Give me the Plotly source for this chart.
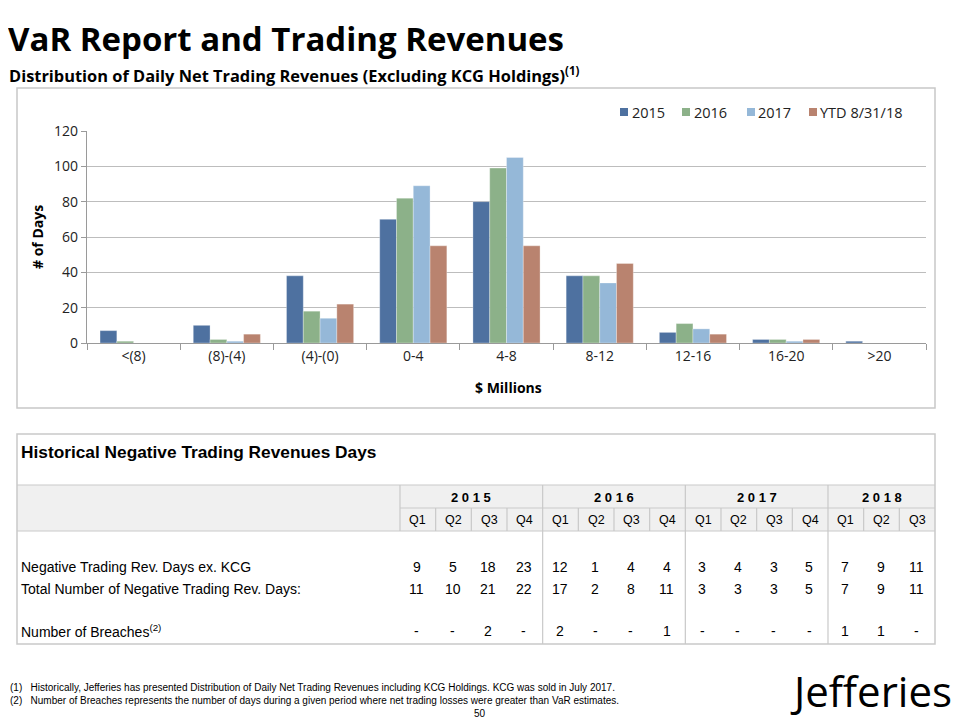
import plotly.graph_objects as go

# ---------------- data ----------------
categories = ["<(8)", "(8)-(4)", "(4)-(0)", "0-4", "4-8", "8-12", "12-16", "16-20", ">20"]
series_names = ["2015", "2016", "2017", "YTD 8/31/18"]
vals_2015 = [7, 10, 38, 70, 80, 38, 6, 2, 1]
vals_2016 = [1, 2, 18, 82, 99, 38, 11, 2, 0]
vals_2017 = [0, 1, 14, 89, 105, 34, 8, 1, 0]
vals_ytd18 = [0, 5, 22, 55, 55, 45, 5, 2, 0]
series_colors = ["#4E71A0", "#8CB189", "#95B8D8", "#B9836F"]

table_years = ["2015", "2016", "2017", "2018"]
quarters_per_year = [4, 4, 4, 3]
quarter_labels = ["Q1", "Q2", "Q3", "Q4", "Q1", "Q2", "Q3", "Q4",
                  "Q1", "Q2", "Q3", "Q4", "Q1", "Q2", "Q3"]
neg_days_ex_kcg = [9, 5, 18, 23, 12, 1, 4, 4, 3, 4, 3, 5, 7, 9, 11]
total_neg_days = [11, 10, 21, 22, 17, 2, 8, 11, 3, 3, 3, 5, 7, 9, 11]
breaches = ["-", "-", "2", "-", "2", "-", "-", "1", "-", "-", "-", "-", "1", "1", "-"]
row_labels = ["Negative Trading Rev. Days ex. KCG",
              "Total Number of Negative Trading Rev. Days:",
              "Number of Breaches<sup>(2)</sup>"]

# page offset (body margin) compensation: figure occupies 8..960 x 8..720
OFF = 8
W, H = 960 - OFF, 720 - OFF
def px(x): return (x - OFF) / W
def py(y): return 1 - (y - OFF) / H

def ann(text, x, y, size, family="Open Sans", xanchor="center", yanchor="middle", color="#000", **kw):
    d = dict(text=text, x=px(x), y=py(y), xref="paper", yref="paper", xanchor=xanchor,
             yanchor=yanchor, showarrow=False, font=dict(family=family, size=size, color=color))
    d.update(kw)
    return d

fig = go.Figure()
for name, vals, col in zip(series_names, [vals_2015, vals_2016, vals_2017, vals_ytd18], series_colors):
    fig.add_trace(go.Bar(x=categories, y=vals, name=name,
                         marker=dict(color=col, line=dict(color="rgba(255,255,255,0.6)", width=0.5))))

shapes = []
annotations = []
line_col = "#C9C9C9"

# chart frame
shapes.append(dict(type="rect", xref="paper", yref="paper", x0=px(17), x1=px(935),
                   y0=py(408), y1=py(88), line=dict(color="#C8C8C8", width=1.5), layer="below"))

# titles
annotations.append(ann("<b>VaR Report and Trading Revenues</b>", 6, 39, 33, xanchor="left"))
annotations.append(ann("<b>Distribution of Daily Net Trading Revenues (Excluding KCG Holdings)<sup>(1)</sup></b>",
                       7, 75, 16.4, xanchor="left"))

# axis titles
annotations.append(ann("<b># of Days</b>", 38, 237, 14, textangle=-90))
annotations.append(ann("<b>$ Millions</b>", 508, 387, 14))

# legend (manual, compact squares like the original)
legend_sq_x = [620, 682, 747, 809]
legend_txt_x = [630, 692, 756, 818]
for name, col, sx, tx in zip(series_names, series_colors, legend_sq_x, legend_txt_x):
    shapes.append(dict(type="rect", xref="paper", yref="paper", x0=px(sx), x1=px(sx + 8),
                       y0=py(116), y1=py(108), fillcolor=col, line=dict(width=0)))
    annotations.append(ann(name, tx, 112, 14.5, xanchor="left", color="#222"))

# ---------------- table ----------------
tx0, tx1 = 17, 935
ty0, ty1 = 434, 644
lab_x = 400
col_w = (tx1 - lab_x) / len(quarter_labels)
y_title_bottom, y_year_bottom, y_q_bottom = 485, 508, 531
TF = "Liberation Sans"

shapes.append(dict(type="rect", xref="paper", yref="paper", x0=px(tx0), x1=px(tx1),
                   y0=py(y_q_bottom), y1=py(y_title_bottom), fillcolor="#F0F0F0",
                   line=dict(width=0), layer="below"))
shapes.append(dict(type="rect", xref="paper", yref="paper", x0=px(tx0), x1=px(tx1),
                   y0=py(ty1), y1=py(ty0), line=dict(color=line_col, width=1.5)))
for yy, xa in [(y_title_bottom, tx0), (y_year_bottom, lab_x), (y_q_bottom, tx0)]:
    shapes.append(dict(type="line", xref="paper", yref="paper", x0=px(xa), x1=px(tx1),
                       y0=py(yy), y1=py(yy), line=dict(color=line_col, width=1.2)))
shapes.append(dict(type="line", xref="paper", yref="paper", x0=px(lab_x), x1=px(lab_x),
                   y0=py(y_title_bottom), y1=py(y_q_bottom), line=dict(color=line_col, width=1.2)))

annotations.append(ann("<b>Historical Negative Trading Revenues Days</b>", 19, 452, 17.3, family=TF,
                       xanchor="left"))

ci = 0
for yr, nq in zip(table_years, quarters_per_year):
    x_start = lab_x + ci * col_w
    x_end = x_start + nq * col_w
    annotations.append(ann("<b>" + " ".join(yr) + "</b>", (x_start + x_end) / 2, 497, 13, family=TF))
    if x_end < tx1 - 1:
        shapes.append(dict(type="line", xref="paper", yref="paper", x0=px(x_end), x1=px(x_end),
                           y0=py(ty1), y1=py(y_title_bottom), line=dict(color=line_col, width=1.2)))
    for k in range(1, nq):
        xb = x_start + k * col_w
        shapes.append(dict(type="line", xref="paper", yref="paper", x0=px(xb), x1=px(xb),
                           y0=py(y_q_bottom), y1=py(y_year_bottom), line=dict(color=line_col, width=1.2)))
    ci += nq

row_ys = [567, 589, 631]
for lbl, yy in zip(row_labels, row_ys):
    annotations.append(ann(lbl, 19, yy, 14, family=TF, xanchor="left"))
for i, q in enumerate(quarter_labels):
    cx = lab_x + (i + 0.5) * col_w
    annotations.append(ann(q, cx, 520, 12.5, family=TF))
    for v, yy in zip([neg_days_ex_kcg[i], total_neg_days[i], breaches[i]], row_ys):
        annotations.append(ann(str(v), cx - 1, yy, 14, family=TF))

# footnotes
FN = "Liberation Sans Narrow, Liberation Sans"
annotations.append(ann("(1)   Historically, Jefferies has presented Distribution of Daily Net Trading Revenues including KCG Holdings. KCG was sold in July 2017.",
                       8, 687, 10, family=FN, xanchor="left"))
annotations.append(ann("(2)   Number of Breaches represents the number of days during a given period where net trading losses were greater than VaR estimates.",
                       8, 700, 10, family=FN, xanchor="left"))
annotations.append(ann("50", 480, 713, 10, family=FN))
annotations.append(ann("Jefferies", 954, 690, 42, xanchor="right"))

fig.update_layout(
    width=W, height=H, margin=dict(l=0, r=0, t=0, b=0, autoexpand=False),
    paper_bgcolor="white", plot_bgcolor="white",
    barmode="group", bargap=0.28, bargroupgap=0, showlegend=False,
    font=dict(family="Open Sans", size=14, color="#222"),
    xaxis=dict(domain=[px(87), px(926)], type="category", tickson="boundaries", ticks="outside",
               ticklen=6, tickcolor="#9A9A9A", showline=True, linecolor="#9A9A9A", linewidth=1.2,
               tickfont=dict(size=14, color="#222"), automargin=False),
    yaxis=dict(domain=[py(343), py(131)], range=[0, 120], dtick=20, showgrid=True,
               gridcolor="#BDBDBD", gridwidth=1.2, showline=True, linecolor="#9A9A9A", linewidth=1.2,
               ticks="outside", ticklen=5, tickcolor="#9A9A9A", zeroline=False,
               tickfont=dict(size=14, color="#222"), automargin=False),
    shapes=shapes, annotations=annotations,
)

fig.write_html("out.html")
